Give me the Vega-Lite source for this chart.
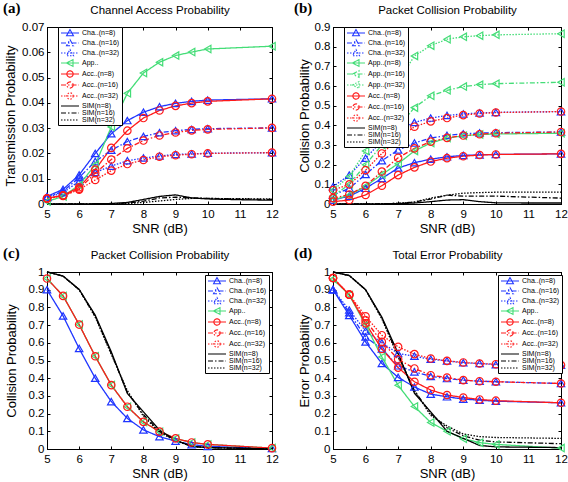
{
"$schema": "https://vega.github.io/schema/vega-lite/v6.json",
"padding": {"left": 2, "top": 0, "right": 0, "bottom": 0},
"background": "white",
"columns": 2,
"spacing": {"row": 9, "column": 14},
"resolve": {"scale": {"x": "independent", "y": "independent", "color": "independent", "shape": "independent", "strokeDash": "independent"}},
"datasets": {
"a": [
{"s":"Cha..(n=8)","x":5,"y":0.003},{"s":"Cha..(n=8)","x":5.5,"y":0.0058},{"s":"Cha..(n=8)","x":6,"y":0.0115},{"s":"Cha..(n=8)","x":6.5,"y":0.02},{"s":"Cha..(n=8)","x":7,"y":0.0278},{"s":"Cha..(n=8)","x":7.5,"y":0.033},{"s":"Cha..(n=8)","x":8,"y":0.0363},{"s":"Cha..(n=8)","x":8.5,"y":0.0385},{"s":"Cha..(n=8)","x":9,"y":0.0398},{"s":"Cha..(n=8)","x":9.5,"y":0.0406},{"s":"Cha..(n=8)","x":10,"y":0.0411},{"s":"Cha..(n=8)","x":12,"y":0.0416},
{"s":"Cha..(n=16)","x":5,"y":0.0027},{"s":"Cha..(n=16)","x":5.5,"y":0.005},{"s":"Cha..(n=16)","x":6,"y":0.0105},{"s":"Cha..(n=16)","x":6.5,"y":0.0168},{"s":"Cha..(n=16)","x":7,"y":0.0213},{"s":"Cha..(n=16)","x":7.5,"y":0.0247},{"s":"Cha..(n=16)","x":8,"y":0.0267},{"s":"Cha..(n=16)","x":8.5,"y":0.0282},{"s":"Cha..(n=16)","x":9,"y":0.029},{"s":"Cha..(n=16)","x":9.5,"y":0.0295},{"s":"Cha..(n=16)","x":10,"y":0.0298},{"s":"Cha..(n=16)","x":12,"y":0.0301},
{"s":"Cha..(n=32)","x":5,"y":0.0025},{"s":"Cha..(n=32)","x":5.5,"y":0.0045},{"s":"Cha..(n=32)","x":6,"y":0.009},{"s":"Cha..(n=32)","x":6.5,"y":0.0125},{"s":"Cha..(n=32)","x":7,"y":0.015},{"s":"Cha..(n=32)","x":7.5,"y":0.0171},{"s":"Cha..(n=32)","x":8,"y":0.0182},{"s":"Cha..(n=32)","x":8.5,"y":0.019},{"s":"Cha..(n=32)","x":9,"y":0.0196},{"s":"Cha..(n=32)","x":9.5,"y":0.0198},{"s":"Cha..(n=32)","x":10,"y":0.0201},{"s":"Cha..(n=32)","x":12,"y":0.0203},
{"s":"App..","x":5,"y":0.001},{"s":"App..","x":5.5,"y":0.003},{"s":"App..","x":6,"y":0.0075},{"s":"App..","x":6.5,"y":0.0155},{"s":"App..","x":7,"y":0.0305},{"s":"App..","x":7.5,"y":0.0438},{"s":"App..","x":8,"y":0.0518},{"s":"App..","x":8.5,"y":0.0561},{"s":"App..","x":9,"y":0.0587},{"s":"App..","x":9.5,"y":0.0601},{"s":"App..","x":10,"y":0.0613},{"s":"App..","x":12,"y":0.0624},
{"s":"Acc..(n=8)","x":5,"y":0.0023},{"s":"Acc..(n=8)","x":5.5,"y":0.0034},{"s":"Acc..(n=8)","x":6,"y":0.0066},{"s":"Acc..(n=8)","x":6.5,"y":0.0136},{"s":"Acc..(n=8)","x":7,"y":0.0222},{"s":"Acc..(n=8)","x":7.5,"y":0.029},{"s":"Acc..(n=8)","x":8,"y":0.034},{"s":"Acc..(n=8)","x":8.5,"y":0.037},{"s":"Acc..(n=8)","x":9,"y":0.0388},{"s":"Acc..(n=8)","x":9.5,"y":0.0399},{"s":"Acc..(n=8)","x":10,"y":0.0406},{"s":"Acc..(n=8)","x":12,"y":0.0416},
{"s":"Acc..(n=16)","x":5,"y":0.0022},{"s":"Acc..(n=16)","x":5.5,"y":0.0033},{"s":"Acc..(n=16)","x":6,"y":0.006},{"s":"Acc..(n=16)","x":6.5,"y":0.0122},{"s":"Acc..(n=16)","x":7,"y":0.0176},{"s":"Acc..(n=16)","x":7.5,"y":0.022},{"s":"Acc..(n=16)","x":8,"y":0.0251},{"s":"Acc..(n=16)","x":8.5,"y":0.0271},{"s":"Acc..(n=16)","x":9,"y":0.0283},{"s":"Acc..(n=16)","x":9.5,"y":0.0291},{"s":"Acc..(n=16)","x":10,"y":0.0295},{"s":"Acc..(n=16)","x":12,"y":0.0301},
{"s":"Acc..(n=32)","x":5,"y":0.0021},{"s":"Acc..(n=32)","x":5.5,"y":0.0032},{"s":"Acc..(n=32)","x":6,"y":0.0057},{"s":"Acc..(n=32)","x":6.5,"y":0.0095},{"s":"Acc..(n=32)","x":7,"y":0.0132},{"s":"Acc..(n=32)","x":7.5,"y":0.0158},{"s":"Acc..(n=32)","x":8,"y":0.0174},{"s":"Acc..(n=32)","x":8.5,"y":0.0187},{"s":"Acc..(n=32)","x":9,"y":0.0193},{"s":"Acc..(n=32)","x":9.5,"y":0.0197},{"s":"Acc..(n=32)","x":10,"y":0.02},{"s":"Acc..(n=32)","x":12,"y":0.0203},
{"s":"SIM(n=8)","x":5,"y":0},{"s":"SIM(n=8)","x":6,"y":0},{"s":"SIM(n=8)","x":7,"y":0.0002},{"s":"SIM(n=8)","x":7.5,"y":0.0006},{"s":"SIM(n=8)","x":8,"y":0.0018},{"s":"SIM(n=8)","x":8.5,"y":0.003},{"s":"SIM(n=8)","x":9,"y":0.0036},{"s":"SIM(n=8)","x":9.5,"y":0.0024},{"s":"SIM(n=8)","x":10,"y":0.002},{"s":"SIM(n=8)","x":11,"y":0.0017},{"s":"SIM(n=8)","x":12,"y":0.0015},
{"s":"SIM(n=16)","x":5,"y":0},{"s":"SIM(n=16)","x":6,"y":0},{"s":"SIM(n=16)","x":7,"y":0.0001},{"s":"SIM(n=16)","x":7.5,"y":0.0004},{"s":"SIM(n=16)","x":8,"y":0.0011},{"s":"SIM(n=16)","x":8.5,"y":0.0024},{"s":"SIM(n=16)","x":9,"y":0.0027},{"s":"SIM(n=16)","x":9.5,"y":0.0024},{"s":"SIM(n=16)","x":10,"y":0.0022},{"s":"SIM(n=16)","x":11,"y":0.002},{"s":"SIM(n=16)","x":12,"y":0.0018},
{"s":"SIM(n=32)","x":5,"y":0},{"s":"SIM(n=32)","x":6,"y":0},{"s":"SIM(n=32)","x":7,"y":0},{"s":"SIM(n=32)","x":7.5,"y":0.0002},{"s":"SIM(n=32)","x":8,"y":0.0006},{"s":"SIM(n=32)","x":8.5,"y":0.0012},{"s":"SIM(n=32)","x":9,"y":0.0018},{"s":"SIM(n=32)","x":9.5,"y":0.0022},{"s":"SIM(n=32)","x":10,"y":0.0022},{"s":"SIM(n=32)","x":11,"y":0.0021},{"s":"SIM(n=32)","x":12,"y":0.002}
],
"b": [
{"s":"Cha..(n=8)","x":5,"y":0.02},{"s":"Cha..(n=8)","x":5.5,"y":0.04},{"s":"Cha..(n=8)","x":6,"y":0.08},{"s":"Cha..(n=8)","x":6.5,"y":0.13},{"s":"Cha..(n=8)","x":7,"y":0.183},{"s":"Cha..(n=8)","x":7.5,"y":0.21},{"s":"Cha..(n=8)","x":8,"y":0.228},{"s":"Cha..(n=8)","x":8.5,"y":0.24},{"s":"Cha..(n=8)","x":9,"y":0.247},{"s":"Cha..(n=8)","x":9.5,"y":0.25},{"s":"Cha..(n=8)","x":10,"y":0.252},{"s":"Cha..(n=8)","x":12,"y":0.255},
{"s":"Cha..(n=16)","x":5,"y":0.045},{"s":"Cha..(n=16)","x":5.5,"y":0.08},{"s":"Cha..(n=16)","x":6,"y":0.15},{"s":"Cha..(n=16)","x":6.5,"y":0.22},{"s":"Cha..(n=16)","x":7,"y":0.275},{"s":"Cha..(n=16)","x":7.5,"y":0.31},{"s":"Cha..(n=16)","x":8,"y":0.335},{"s":"Cha..(n=16)","x":8.5,"y":0.349},{"s":"Cha..(n=16)","x":9,"y":0.357},{"s":"Cha..(n=16)","x":9.5,"y":0.361},{"s":"Cha..(n=16)","x":10,"y":0.363},{"s":"Cha..(n=16)","x":12,"y":0.366},
{"s":"Cha..(n=32)","x":5,"y":0.088},{"s":"Cha..(n=32)","x":5.5,"y":0.147},{"s":"Cha..(n=32)","x":6,"y":0.233},{"s":"Cha..(n=32)","x":6.5,"y":0.32},{"s":"Cha..(n=32)","x":7,"y":0.375},{"s":"Cha..(n=32)","x":7.5,"y":0.415},{"s":"Cha..(n=32)","x":8,"y":0.437},{"s":"Cha..(n=32)","x":8.5,"y":0.45},{"s":"Cha..(n=32)","x":9,"y":0.458},{"s":"Cha..(n=32)","x":9.5,"y":0.463},{"s":"Cha..(n=32)","x":10,"y":0.466},{"s":"Cha..(n=32)","x":12,"y":0.47},
{"s":"App..(n=8)","x":5,"y":0.02},{"s":"App..(n=8)","x":5.5,"y":0.045},{"s":"App..(n=8)","x":6,"y":0.09},{"s":"App..(n=8)","x":6.5,"y":0.15},{"s":"App..(n=8)","x":7,"y":0.205},{"s":"App..(n=8)","x":7.5,"y":0.27},{"s":"App..(n=8)","x":8,"y":0.31},{"s":"App..(n=8)","x":8.5,"y":0.335},{"s":"App..(n=8)","x":9,"y":0.347},{"s":"App..(n=8)","x":9.5,"y":0.353},{"s":"App..(n=8)","x":10,"y":0.356},{"s":"App..(n=8)","x":12,"y":0.36},
{"s":"App..(n=16)","x":5,"y":0.04},{"s":"App..(n=16)","x":5.5,"y":0.1},{"s":"App..(n=16)","x":6,"y":0.2},{"s":"App..(n=16)","x":6.5,"y":0.3},{"s":"App..(n=16)","x":7,"y":0.39},{"s":"App..(n=16)","x":7.5,"y":0.49},{"s":"App..(n=16)","x":8,"y":0.55},{"s":"App..(n=16)","x":8.5,"y":0.578},{"s":"App..(n=16)","x":9,"y":0.597},{"s":"App..(n=16)","x":9.5,"y":0.607},{"s":"App..(n=16)","x":10,"y":0.612},{"s":"App..(n=16)","x":12,"y":0.619},
{"s":"App..(n=32)","x":5,"y":0.07},{"s":"App..(n=32)","x":5.5,"y":0.14},{"s":"App..(n=32)","x":6,"y":0.27},{"s":"App..(n=32)","x":6.5,"y":0.45},{"s":"App..(n=32)","x":7,"y":0.62},{"s":"App..(n=32)","x":7.5,"y":0.753},{"s":"App..(n=32)","x":8,"y":0.805},{"s":"App..(n=32)","x":8.5,"y":0.838},{"s":"App..(n=32)","x":9,"y":0.85},{"s":"App..(n=32)","x":9.5,"y":0.856},{"s":"App..(n=32)","x":10,"y":0.86},{"s":"App..(n=32)","x":12,"y":0.866},
{"s":"Acc..(n=8)","x":5,"y":0.012},{"s":"Acc..(n=8)","x":5.5,"y":0.02},{"s":"Acc..(n=8)","x":6,"y":0.046},{"s":"Acc..(n=8)","x":6.5,"y":0.093},{"s":"Acc..(n=8)","x":7,"y":0.147},{"s":"Acc..(n=8)","x":7.5,"y":0.186},{"s":"Acc..(n=8)","x":8,"y":0.216},{"s":"Acc..(n=8)","x":8.5,"y":0.233},{"s":"Acc..(n=8)","x":9,"y":0.243},{"s":"Acc..(n=8)","x":9.5,"y":0.249},{"s":"Acc..(n=8)","x":10,"y":0.252},{"s":"Acc..(n=8)","x":12,"y":0.255},
{"s":"Acc..(n=16)","x":5,"y":0.03},{"s":"Acc..(n=16)","x":5.5,"y":0.048},{"s":"Acc..(n=16)","x":6,"y":0.092},{"s":"Acc..(n=16)","x":6.5,"y":0.165},{"s":"Acc..(n=16)","x":7,"y":0.235},{"s":"Acc..(n=16)","x":7.5,"y":0.283},{"s":"Acc..(n=16)","x":8,"y":0.317},{"s":"Acc..(n=16)","x":8.5,"y":0.336},{"s":"Acc..(n=16)","x":9,"y":0.348},{"s":"Acc..(n=16)","x":9.5,"y":0.355},{"s":"Acc..(n=16)","x":10,"y":0.36},{"s":"Acc..(n=16)","x":12,"y":0.366},
{"s":"Acc..(n=32)","x":5,"y":0.071},{"s":"Acc..(n=32)","x":5.5,"y":0.1},{"s":"Acc..(n=32)","x":6,"y":0.172},{"s":"Acc..(n=32)","x":6.5,"y":0.257},{"s":"Acc..(n=32)","x":7,"y":0.33},{"s":"Acc..(n=32)","x":7.5,"y":0.393},{"s":"Acc..(n=32)","x":8,"y":0.42},{"s":"Acc..(n=32)","x":8.5,"y":0.437},{"s":"Acc..(n=32)","x":9,"y":0.452},{"s":"Acc..(n=32)","x":9.5,"y":0.46},{"s":"Acc..(n=32)","x":10,"y":0.465},{"s":"Acc..(n=32)","x":12,"y":0.47},
{"s":"SIM(n=8)","x":5,"y":0},{"s":"SIM(n=8)","x":6,"y":0},{"s":"SIM(n=8)","x":7,"y":0.002},{"s":"SIM(n=8)","x":7.5,"y":0.005},{"s":"SIM(n=8)","x":8,"y":0.012},{"s":"SIM(n=8)","x":8.5,"y":0.02},{"s":"SIM(n=8)","x":9,"y":0.022},{"s":"SIM(n=8)","x":9.5,"y":0.012},{"s":"SIM(n=8)","x":10,"y":0.006},{"s":"SIM(n=8)","x":11,"y":0.005},{"s":"SIM(n=8)","x":12,"y":0.005},
{"s":"SIM(n=16)","x":5,"y":0},{"s":"SIM(n=16)","x":6,"y":0},{"s":"SIM(n=16)","x":7,"y":0.003},{"s":"SIM(n=16)","x":7.5,"y":0.01},{"s":"SIM(n=16)","x":8,"y":0.025},{"s":"SIM(n=16)","x":8.5,"y":0.045},{"s":"SIM(n=16)","x":9,"y":0.04},{"s":"SIM(n=16)","x":9.5,"y":0.04},{"s":"SIM(n=16)","x":10,"y":0.04},{"s":"SIM(n=16)","x":11,"y":0.035},{"s":"SIM(n=16)","x":12,"y":0.03},
{"s":"SIM(n=32)","x":5,"y":0},{"s":"SIM(n=32)","x":6,"y":0},{"s":"SIM(n=32)","x":7,"y":0.003},{"s":"SIM(n=32)","x":7.5,"y":0.01},{"s":"SIM(n=32)","x":8,"y":0.03},{"s":"SIM(n=32)","x":8.5,"y":0.045},{"s":"SIM(n=32)","x":9,"y":0.055},{"s":"SIM(n=32)","x":9.5,"y":0.058},{"s":"SIM(n=32)","x":10,"y":0.06},{"s":"SIM(n=32)","x":11,"y":0.06},{"s":"SIM(n=32)","x":12,"y":0.06}
],
"c": [
{"s":"Cha..(n=8)","x":5,"y":0.9},{"s":"Cha..(n=8)","x":5.5,"y":0.752},{"s":"Cha..(n=8)","x":6,"y":0.568},{"s":"Cha..(n=8)","x":6.5,"y":0.4},{"s":"Cha..(n=8)","x":7,"y":0.268},{"s":"Cha..(n=8)","x":7.5,"y":0.173},{"s":"Cha..(n=8)","x":8,"y":0.108},{"s":"Cha..(n=8)","x":8.5,"y":0.07},{"s":"Cha..(n=8)","x":9,"y":0.044},{"s":"Cha..(n=8)","x":9.5,"y":0.025},{"s":"Cha..(n=8)","x":10,"y":0.015},{"s":"Cha..(n=8)","x":12,"y":0.003},
{"s":"App..","x":5,"y":0.963},{"s":"App..","x":5.5,"y":0.865},{"s":"App..","x":6,"y":0.703},{"s":"App..","x":6.5,"y":0.524},{"s":"App..","x":7,"y":0.361},{"s":"App..","x":7.5,"y":0.239},{"s":"App..","x":8,"y":0.153},{"s":"App..","x":8.5,"y":0.098},{"s":"App..","x":9,"y":0.06},{"s":"App..","x":9.5,"y":0.037},{"s":"App..","x":10,"y":0.026},{"s":"App..","x":12,"y":0.005},
{"s":"Acc..(n=8)","x":5,"y":0.963},{"s":"Acc..(n=8)","x":5.5,"y":0.865},{"s":"Acc..(n=8)","x":6,"y":0.703},{"s":"Acc..(n=8)","x":6.5,"y":0.524},{"s":"Acc..(n=8)","x":7,"y":0.361},{"s":"Acc..(n=8)","x":7.5,"y":0.239},{"s":"Acc..(n=8)","x":8,"y":0.153},{"s":"Acc..(n=8)","x":8.5,"y":0.098},{"s":"Acc..(n=8)","x":9,"y":0.06},{"s":"Acc..(n=8)","x":9.5,"y":0.037},{"s":"Acc..(n=8)","x":10,"y":0.026},{"s":"Acc..(n=8)","x":12,"y":0.005},
{"s":"SIM(n=8)","x":5,"y":1},{"s":"SIM(n=8)","x":5.5,"y":0.977},{"s":"SIM(n=8)","x":6,"y":0.902},{"s":"SIM(n=8)","x":6.5,"y":0.756},{"s":"SIM(n=8)","x":7,"y":0.549},{"s":"SIM(n=8)","x":7.5,"y":0.314},{"s":"SIM(n=8)","x":8,"y":0.21},{"s":"SIM(n=8)","x":8.5,"y":0.107},{"s":"SIM(n=8)","x":9,"y":0.05},{"s":"SIM(n=8)","x":9.5,"y":0.015},{"s":"SIM(n=8)","x":10,"y":0.008},{"s":"SIM(n=8)","x":12,"y":0},
{"s":"SIM(n=16)","x":5,"y":1},{"s":"SIM(n=16)","x":5.5,"y":0.977},{"s":"SIM(n=16)","x":6,"y":0.9},{"s":"SIM(n=16)","x":6.5,"y":0.75},{"s":"SIM(n=16)","x":7,"y":0.54},{"s":"SIM(n=16)","x":7.5,"y":0.32},{"s":"SIM(n=16)","x":8,"y":0.195},{"s":"SIM(n=16)","x":8.5,"y":0.1},{"s":"SIM(n=16)","x":9,"y":0.048},{"s":"SIM(n=16)","x":9.5,"y":0.015},{"s":"SIM(n=16)","x":10,"y":0.008},{"s":"SIM(n=16)","x":12,"y":0},
{"s":"SIM(n=32)","x":5,"y":1},{"s":"SIM(n=32)","x":5.5,"y":0.977},{"s":"SIM(n=32)","x":6,"y":0.9},{"s":"SIM(n=32)","x":6.5,"y":0.745},{"s":"SIM(n=32)","x":7,"y":0.535},{"s":"SIM(n=32)","x":7.5,"y":0.33},{"s":"SIM(n=32)","x":8,"y":0.185},{"s":"SIM(n=32)","x":8.5,"y":0.095},{"s":"SIM(n=32)","x":9,"y":0.046},{"s":"SIM(n=32)","x":9.5,"y":0.015},{"s":"SIM(n=32)","x":10,"y":0.008},{"s":"SIM(n=32)","x":12,"y":0}
],
"d": [
{"s":"Cha..(n=8)","x":5,"y":0.9},{"s":"Cha..(n=8)","x":5.5,"y":0.755},{"s":"Cha..(n=8)","x":6,"y":0.605},{"s":"Cha..(n=8)","x":6.5,"y":0.483},{"s":"Cha..(n=8)","x":7,"y":0.405},{"s":"Cha..(n=8)","x":7.5,"y":0.35},{"s":"Cha..(n=8)","x":8,"y":0.31},{"s":"Cha..(n=8)","x":8.5,"y":0.295},{"s":"Cha..(n=8)","x":9,"y":0.282},{"s":"Cha..(n=8)","x":9.5,"y":0.276},{"s":"Cha..(n=8)","x":10,"y":0.27},{"s":"Cha..(n=8)","x":12,"y":0.261},
{"s":"Cha..(n=16)","x":5,"y":0.9},{"s":"Cha..(n=16)","x":5.5,"y":0.77},{"s":"Cha..(n=16)","x":6,"y":0.633},{"s":"Cha..(n=16)","x":6.5,"y":0.565},{"s":"Cha..(n=16)","x":7,"y":0.47},{"s":"Cha..(n=16)","x":7.5,"y":0.436},{"s":"Cha..(n=16)","x":8,"y":0.41},{"s":"Cha..(n=16)","x":8.5,"y":0.398},{"s":"Cha..(n=16)","x":9,"y":0.389},{"s":"Cha..(n=16)","x":9.5,"y":0.383},{"s":"Cha..(n=16)","x":10,"y":0.38},{"s":"Cha..(n=16)","x":12,"y":0.37},
{"s":"Cha..(n=32)","x":5,"y":0.9},{"s":"Cha..(n=32)","x":5.5,"y":0.785},{"s":"Cha..(n=32)","x":6,"y":0.667},{"s":"Cha..(n=32)","x":6.5,"y":0.6},{"s":"Cha..(n=32)","x":7,"y":0.54},{"s":"Cha..(n=32)","x":7.5,"y":0.524},{"s":"Cha..(n=32)","x":8,"y":0.507},{"s":"Cha..(n=32)","x":8.5,"y":0.498},{"s":"Cha..(n=32)","x":9,"y":0.487},{"s":"Cha..(n=32)","x":9.5,"y":0.483},{"s":"Cha..(n=32)","x":10,"y":0.477},{"s":"Cha..(n=32)","x":12,"y":0.474},
{"s":"App..","x":5,"y":0.96},{"s":"App..","x":5.5,"y":0.87},{"s":"App..","x":6,"y":0.7},{"s":"App..","x":6.5,"y":0.52},{"s":"App..","x":7,"y":0.36},{"s":"App..","x":7.5,"y":0.24},{"s":"App..","x":8,"y":0.15},{"s":"App..","x":8.5,"y":0.1},{"s":"App..","x":9,"y":0.058},{"s":"App..","x":9.5,"y":0.036},{"s":"App..","x":10,"y":0.026},{"s":"App..","x":12,"y":0.005},
{"s":"Acc..(n=8)","x":5,"y":0.966},{"s":"Acc..(n=8)","x":5.5,"y":0.872},{"s":"Acc..(n=8)","x":6,"y":0.71},{"s":"Acc..(n=8)","x":6.5,"y":0.565},{"s":"Acc..(n=8)","x":7,"y":0.46},{"s":"Acc..(n=8)","x":7.5,"y":0.38},{"s":"Acc..(n=8)","x":8,"y":0.333},{"s":"Acc..(n=8)","x":8.5,"y":0.305},{"s":"Acc..(n=8)","x":9,"y":0.291},{"s":"Acc..(n=8)","x":9.5,"y":0.28},{"s":"Acc..(n=8)","x":10,"y":0.273},{"s":"Acc..(n=8)","x":12,"y":0.261},
{"s":"Acc..(n=16)","x":5,"y":0.966},{"s":"Acc..(n=16)","x":5.5,"y":0.872},{"s":"Acc..(n=16)","x":6,"y":0.727},{"s":"Acc..(n=16)","x":6.5,"y":0.605},{"s":"Acc..(n=16)","x":7,"y":0.507},{"s":"Acc..(n=16)","x":7.5,"y":0.455},{"s":"Acc..(n=16)","x":8,"y":0.417},{"s":"Acc..(n=16)","x":8.5,"y":0.404},{"s":"Acc..(n=16)","x":9,"y":0.389},{"s":"Acc..(n=16)","x":9.5,"y":0.383},{"s":"Acc..(n=16)","x":10,"y":0.38},{"s":"Acc..(n=16)","x":12,"y":0.37},
{"s":"Acc..(n=32)","x":5,"y":0.966},{"s":"Acc..(n=32)","x":5.5,"y":0.872},{"s":"Acc..(n=32)","x":6,"y":0.75},{"s":"Acc..(n=32)","x":6.5,"y":0.643},{"s":"Acc..(n=32)","x":7,"y":0.577},{"s":"Acc..(n=32)","x":7.5,"y":0.536},{"s":"Acc..(n=32)","x":8,"y":0.511},{"s":"Acc..(n=32)","x":8.5,"y":0.498},{"s":"Acc..(n=32)","x":9,"y":0.489},{"s":"Acc..(n=32)","x":9.5,"y":0.483},{"s":"Acc..(n=32)","x":10,"y":0.479},{"s":"Acc..(n=32)","x":12,"y":0.474},
{"s":"SIM(n=8)","x":5,"y":1},{"s":"SIM(n=8)","x":5.5,"y":0.98},{"s":"SIM(n=8)","x":6,"y":0.9},{"s":"SIM(n=8)","x":6.5,"y":0.745},{"s":"SIM(n=8)","x":7,"y":0.54},{"s":"SIM(n=8)","x":7.5,"y":0.315},{"s":"SIM(n=8)","x":8,"y":0.21},{"s":"SIM(n=8)","x":8.5,"y":0.1},{"s":"SIM(n=8)","x":9,"y":0.06},{"s":"SIM(n=8)","x":9.5,"y":0.02},{"s":"SIM(n=8)","x":10,"y":0.012},{"s":"SIM(n=8)","x":12,"y":0.008},
{"s":"SIM(n=16)","x":5,"y":1},{"s":"SIM(n=16)","x":5.5,"y":0.98},{"s":"SIM(n=16)","x":6,"y":0.9},{"s":"SIM(n=16)","x":6.5,"y":0.74},{"s":"SIM(n=16)","x":7,"y":0.53},{"s":"SIM(n=16)","x":7.5,"y":0.33},{"s":"SIM(n=16)","x":8,"y":0.2},{"s":"SIM(n=16)","x":8.5,"y":0.12},{"s":"SIM(n=16)","x":9,"y":0.075},{"s":"SIM(n=16)","x":9.5,"y":0.05},{"s":"SIM(n=16)","x":10,"y":0.04},{"s":"SIM(n=16)","x":12,"y":0.03},
{"s":"SIM(n=32)","x":5,"y":1},{"s":"SIM(n=32)","x":5.5,"y":0.98},{"s":"SIM(n=32)","x":6,"y":0.9},{"s":"SIM(n=32)","x":6.5,"y":0.735},{"s":"SIM(n=32)","x":7,"y":0.52},{"s":"SIM(n=32)","x":7.5,"y":0.33},{"s":"SIM(n=32)","x":8,"y":0.19},{"s":"SIM(n=32)","x":8.5,"y":0.13},{"s":"SIM(n=32)","x":9,"y":0.085},{"s":"SIM(n=32)","x":9.5,"y":0.07},{"s":"SIM(n=32)","x":10,"y":0.065},{"s":"SIM(n=32)","x":12,"y":0.06}
]
},
"concat": [
{
"data": {"name": "a"},
"width": 225, "height": 177,
"title": {"text": "(a)", "dx": -44},
"resolve": {"scale": {"color": "independent", "shape": "independent", "strokeDash": "independent"}, "axis": {"x": "independent", "y": "independent"}},
"layer": [
{"mark": {"type": "line", "strokeWidth": 1.3},
 "encoding": {
  "x": {"field": "x", "type": "quantitative", "scale": {"domain": [5, 12], "nice": false}, "axis": {"orient": "bottom", "values": [5,6,7,8,9,10,11,12], "title": "SNR (dB)", "labelPadding": 7, "titlePadding": 3, "labelFlush": false}},
  "y": {"field": "y", "type": "quantitative", "scale": {"domain": [0, 0.07], "nice": false}, "axis": {"orient": "left", "values": [0,0.01,0.02,0.03,0.04,0.05,0.06,0.07], "format": "~g", "title": "Transmission Probability", "labelPadding": 6, "titlePadding": 4}},
  "color": {"field": "s", "type": "nominal", "scale": {"domain": ["Cha..(n=8)","Cha..(n=16)","Cha..(n=32)","App..","Acc..(n=8)","Acc..(n=16)","Acc..(n=32)","SIM(n=8)","SIM(n=16)","SIM(n=32)"], "range": ["#1f35ff","#1f35ff","#1f35ff","#44dd77","#ff1a1a","#ff1a1a","#ff1a1a","#000000","#000000","#000000"]}, "legend": null},
  "strokeDash": {"field": "s", "type": "nominal", "scale": {"domain": ["Cha..(n=8)","Cha..(n=16)","Cha..(n=32)","App..","Acc..(n=8)","Acc..(n=16)","Acc..(n=32)","SIM(n=8)","SIM(n=16)","SIM(n=32)"], "range": [[1,0],[5,2,1.5,2],[1.5,1.5],[1,0],[1,0],[5,2,1.5,2],[1.5,1.5],[1,0],[5,2,1.5,2],[1.5,1.5]]}, "legend": null}
 }},
{"transform": [{"filter": "indexof(datum.s, 'SIM') < 0"}],
 "mark": {"type": "point", "filled": false, "size": 55, "strokeWidth": 1.2, "opacity": 1},
 "encoding": {
  "x": {"field": "x", "type": "quantitative", "scale": {"domain": [5, 12], "nice": false}, "axis": null},
  "y": {"field": "y", "type": "quantitative", "scale": {"domain": [0, 0.07], "nice": false}, "axis": null},
  "color": {"field": "s", "type": "nominal", "scale": {"domain": ["Cha..(n=8)","Cha..(n=16)","Cha..(n=32)","App..","Acc..(n=8)","Acc..(n=16)","Acc..(n=32)","SIM(n=8)","SIM(n=16)","SIM(n=32)"], "range": ["#1f35ff","#1f35ff","#1f35ff","#44dd77","#ff1a1a","#ff1a1a","#ff1a1a","#000000","#000000","#000000"]}, "legend": null},
  "shape": {"field": "s", "type": "nominal", "scale": {"domain": ["Cha..(n=8)","Cha..(n=16)","Cha..(n=32)","App..","Acc..(n=8)","Acc..(n=16)","Acc..(n=32)","SIM(n=8)","SIM(n=16)","SIM(n=32)"], "range": ["triangle-up","triangle-up","triangle-up","triangle-left","circle","circle","circle","circle","circle","circle"]}, "legend": null}
 }},
{"transform": [{"filter": "datum.y < -1"}],
 "mark": {"type": "point", "filled": false, "opacity": 1},
 "encoding": {
  "x": {"field": "x", "type": "quantitative", "scale": {"domain": [5, 12], "nice": false}, "axis": {"orient": "top", "values": [5,6,7,8,9,10,11,12], "labels": false, "title": "Channel Access Probability", "titleFontSize": 11.5, "titlePadding": 11}},
  "y": {"field": "y", "type": "quantitative", "scale": {"domain": [0, 0.07], "nice": false}, "axis": {"orient": "right", "values": [0,0.01,0.02,0.03,0.04,0.05,0.06,0.07], "labels": false, "title": null}},
  "color": {"field": "s", "type": "nominal", "scale": {"domain": ["Cha..(n=8)","Cha..(n=16)","Cha..(n=32)","App..","Acc..(n=8)","Acc..(n=16)","Acc..(n=32)","SIM(n=8)","SIM(n=16)","SIM(n=32)"], "range": ["#1f35ff","#1f35ff","#1f35ff","#44dd77","#ff1a1a","#ff1a1a","#ff1a1a","#000000","#000000","#000000"]}, "legend": {"orient": "none", "legendX": 11, "legendY": 0}},
  "shape": {"field": "s", "type": "nominal", "scale": {"domain": ["Cha..(n=8)","Cha..(n=16)","Cha..(n=32)","App..","Acc..(n=8)","Acc..(n=16)","Acc..(n=32)","SIM(n=8)","SIM(n=16)","SIM(n=32)"], "range": ["M-1,0H5M2,-1.15L3.15,0.9L0.85,0.9Z","M-1,0H5M2,-1.15L3.15,0.9L0.85,0.9Z","M-1,0H5M2,-1.15L3.15,0.9L0.85,0.9Z","M-1,0H5M0.85,0L3,-1.15L3,1.15Z","M-1,0H5M3.05,0A1.05,1.05,0,1,1,0.95,0A1.05,1.05,0,1,1,3.05,0Z","M-1,0H5M3.05,0A1.05,1.05,0,1,1,0.95,0A1.05,1.05,0,1,1,3.05,0Z","M-1,0H5M3.05,0A1.05,1.05,0,1,1,0.95,0A1.05,1.05,0,1,1,3.05,0Z","M-1,0H5","M-1,0H5","M-1,0H5"]}},
  "strokeDash": {"field": "s", "type": "nominal", "scale": {"domain": ["Cha..(n=8)","Cha..(n=16)","Cha..(n=32)","App..","Acc..(n=8)","Acc..(n=16)","Acc..(n=32)","SIM(n=8)","SIM(n=16)","SIM(n=32)"], "range": [[1,0],[5,2,1.5,2],[1.5,1.5],[1,0],[1,0],[5,2,1.5,2],[1.5,1.5],[1,0],[5,2,1.5,2],[1.5,1.5]]}}
 }}
]
},
{
"data": {"name": "b"},
"width": 228, "height": 177,
"title": {"text": "(b)", "dx": -39},
"resolve": {"scale": {"color": "independent", "shape": "independent", "strokeDash": "independent"}, "axis": {"x": "independent", "y": "independent"}},
"layer": [
{"mark": {"type": "line", "strokeWidth": 1.3},
 "encoding": {
  "x": {"field": "x", "type": "quantitative", "scale": {"domain": [5, 12], "nice": false}, "axis": {"orient": "bottom", "values": [5,6,7,8,9,10,11,12], "title": "SNR (dB)", "labelPadding": 7, "titlePadding": 3, "labelFlush": false}},
  "y": {"field": "y", "type": "quantitative", "scale": {"domain": [0, 0.9], "nice": false}, "axis": {"orient": "left", "values": [0,0.1,0.2,0.3,0.4,0.5,0.6,0.7,0.8,0.9], "format": "~g", "title": "Collision Probability", "labelPadding": 6, "titlePadding": 3}},
  "color": {"field": "s", "type": "nominal", "scale": {"domain": ["Cha..(n=8)","Cha..(n=16)","Cha..(n=32)","App..(n=8)","App..(n=16)","App..(n=32)","Acc..(n=8)","Acc..(n=16)","Acc..(n=32)","SIM(n=8)","SIM(n=16)","SIM(n=32)"], "range": ["#1f35ff","#1f35ff","#1f35ff","#44dd77","#44dd77","#44dd77","#ff1a1a","#ff1a1a","#ff1a1a","#000000","#000000","#000000"]}, "legend": null},
  "strokeDash": {"field": "s", "type": "nominal", "scale": {"domain": ["Cha..(n=8)","Cha..(n=16)","Cha..(n=32)","App..(n=8)","App..(n=16)","App..(n=32)","Acc..(n=8)","Acc..(n=16)","Acc..(n=32)","SIM(n=8)","SIM(n=16)","SIM(n=32)"], "range": [[1,0],[5,2,1.5,2],[1.5,1.5],[1,0],[5,2,1.5,2],[1.5,1.5],[1,0],[5,2,1.5,2],[1.5,1.5],[1,0],[5,2,1.5,2],[1.5,1.5]]}, "legend": null}
 }},
{"transform": [{"filter": "indexof(datum.s, 'SIM') < 0"}],
 "mark": {"type": "point", "filled": false, "size": 55, "strokeWidth": 1.2, "opacity": 1},
 "encoding": {
  "x": {"field": "x", "type": "quantitative", "scale": {"domain": [5, 12], "nice": false}, "axis": null},
  "y": {"field": "y", "type": "quantitative", "scale": {"domain": [0, 0.9], "nice": false}, "axis": null},
  "color": {"field": "s", "type": "nominal", "scale": {"domain": ["Cha..(n=8)","Cha..(n=16)","Cha..(n=32)","App..(n=8)","App..(n=16)","App..(n=32)","Acc..(n=8)","Acc..(n=16)","Acc..(n=32)","SIM(n=8)","SIM(n=16)","SIM(n=32)"], "range": ["#1f35ff","#1f35ff","#1f35ff","#44dd77","#44dd77","#44dd77","#ff1a1a","#ff1a1a","#ff1a1a","#000000","#000000","#000000"]}, "legend": null},
  "shape": {"field": "s", "type": "nominal", "scale": {"domain": ["Cha..(n=8)","Cha..(n=16)","Cha..(n=32)","App..(n=8)","App..(n=16)","App..(n=32)","Acc..(n=8)","Acc..(n=16)","Acc..(n=32)","SIM(n=8)","SIM(n=16)","SIM(n=32)"], "range": ["triangle-up","triangle-up","triangle-up","triangle-left","triangle-left","triangle-left","circle","circle","circle","circle","circle","circle"]}, "legend": null}
 }},
{"transform": [{"filter": "datum.y < -1"}],
 "mark": {"type": "point", "filled": false, "opacity": 1},
 "encoding": {
  "x": {"field": "x", "type": "quantitative", "scale": {"domain": [5, 12], "nice": false}, "axis": {"orient": "top", "values": [5,6,7,8,9,10,11,12], "labels": false, "title": "Packet Collision Probability", "titleFontSize": 11.5, "titlePadding": 11}},
  "y": {"field": "y", "type": "quantitative", "scale": {"domain": [0, 0.9], "nice": false}, "axis": {"orient": "right", "values": [0,0.1,0.2,0.3,0.4,0.5,0.6,0.7,0.8,0.9], "labels": false, "title": null}},
  "color": {"field": "s", "type": "nominal", "scale": {"domain": ["Cha..(n=8)","Cha..(n=16)","Cha..(n=32)","App..(n=8)","App..(n=16)","App..(n=32)","Acc..(n=8)","Acc..(n=16)","Acc..(n=32)","SIM(n=8)","SIM(n=16)","SIM(n=32)"], "range": ["#1f35ff","#1f35ff","#1f35ff","#44dd77","#44dd77","#44dd77","#ff1a1a","#ff1a1a","#ff1a1a","#000000","#000000","#000000"]}, "legend": {"orient": "none", "legendX": 11, "legendY": 0}},
  "shape": {"field": "s", "type": "nominal", "scale": {"domain": ["Cha..(n=8)","Cha..(n=16)","Cha..(n=32)","App..(n=8)","App..(n=16)","App..(n=32)","Acc..(n=8)","Acc..(n=16)","Acc..(n=32)","SIM(n=8)","SIM(n=16)","SIM(n=32)"], "range": ["M-1,0H5M2,-1.15L3.15,0.9L0.85,0.9Z","M-1,0H5M2,-1.15L3.15,0.9L0.85,0.9Z","M-1,0H5M2,-1.15L3.15,0.9L0.85,0.9Z","M-1,0H5M0.85,0L3,-1.15L3,1.15Z","M-1,0H5M0.85,0L3,-1.15L3,1.15Z","M-1,0H5M0.85,0L3,-1.15L3,1.15Z","M-1,0H5M3.05,0A1.05,1.05,0,1,1,0.95,0A1.05,1.05,0,1,1,3.05,0Z","M-1,0H5M3.05,0A1.05,1.05,0,1,1,0.95,0A1.05,1.05,0,1,1,3.05,0Z","M-1,0H5M3.05,0A1.05,1.05,0,1,1,0.95,0A1.05,1.05,0,1,1,3.05,0Z","M-1,0H5","M-1,0H5","M-1,0H5"]}},
  "strokeDash": {"field": "s", "type": "nominal", "scale": {"domain": ["Cha..(n=8)","Cha..(n=16)","Cha..(n=32)","App..(n=8)","App..(n=16)","App..(n=32)","Acc..(n=8)","Acc..(n=16)","Acc..(n=32)","SIM(n=8)","SIM(n=16)","SIM(n=32)"], "range": [[1,0],[5,2,1.5,2],[1.5,1.5],[1,0],[5,2,1.5,2],[1.5,1.5],[1,0],[5,2,1.5,2],[1.5,1.5],[1,0],[5,2,1.5,2],[1.5,1.5]]}}
 }}
]
},
{
"data": {"name": "c"},
"width": 225, "height": 177,
"title": {"text": "(c)", "dx": -44},
"resolve": {"scale": {"color": "independent", "shape": "independent", "strokeDash": "independent"}, "axis": {"x": "independent", "y": "independent"}},
"layer": [
{"mark": {"type": "line", "strokeWidth": 1.3},
 "encoding": {
  "x": {"field": "x", "type": "quantitative", "scale": {"domain": [5, 12], "nice": false}, "axis": {"orient": "bottom", "values": [5,6,7,8,9,10,11,12], "title": "SNR (dB)", "labelPadding": 7, "titlePadding": 3, "labelFlush": false}},
  "y": {"field": "y", "type": "quantitative", "scale": {"domain": [0, 1], "nice": false}, "axis": {"orient": "left", "values": [0,0.1,0.2,0.3,0.4,0.5,0.6,0.7,0.8,0.9,1], "format": "~g", "title": "Collision Probability", "labelPadding": 6, "titlePadding": 10}},
  "color": {"field": "s", "type": "nominal", "scale": {"domain": ["Cha..(n=8)","Cha..(n=16)","Cha..(n=32)","App..","Acc..(n=8)","Acc..(n=16)","Acc..(n=32)","SIM(n=8)","SIM(n=16)","SIM(n=32)"], "range": ["#1f35ff","#1f35ff","#1f35ff","#44dd77","#ff1a1a","#ff1a1a","#ff1a1a","#000000","#000000","#000000"]}, "legend": null},
  "strokeDash": {"field": "s", "type": "nominal", "scale": {"domain": ["Cha..(n=8)","Cha..(n=16)","Cha..(n=32)","App..","Acc..(n=8)","Acc..(n=16)","Acc..(n=32)","SIM(n=8)","SIM(n=16)","SIM(n=32)"], "range": [[1,0],[5,2,1.5,2],[1.5,1.5],[1,0],[1,0],[5,2,1.5,2],[1.5,1.5],[1,0],[5,2,1.5,2],[1.5,1.5]]}, "legend": null}
 }},
{"transform": [{"filter": "indexof(datum.s, 'SIM') < 0"}],
 "mark": {"type": "point", "filled": false, "size": 55, "strokeWidth": 1.2, "opacity": 1},
 "encoding": {
  "x": {"field": "x", "type": "quantitative", "scale": {"domain": [5, 12], "nice": false}, "axis": null},
  "y": {"field": "y", "type": "quantitative", "scale": {"domain": [0, 1], "nice": false}, "axis": null},
  "color": {"field": "s", "type": "nominal", "scale": {"domain": ["Cha..(n=8)","Cha..(n=16)","Cha..(n=32)","App..","Acc..(n=8)","Acc..(n=16)","Acc..(n=32)","SIM(n=8)","SIM(n=16)","SIM(n=32)"], "range": ["#1f35ff","#1f35ff","#1f35ff","#44dd77","#ff1a1a","#ff1a1a","#ff1a1a","#000000","#000000","#000000"]}, "legend": null},
  "shape": {"field": "s", "type": "nominal", "scale": {"domain": ["Cha..(n=8)","Cha..(n=16)","Cha..(n=32)","App..","Acc..(n=8)","Acc..(n=16)","Acc..(n=32)","SIM(n=8)","SIM(n=16)","SIM(n=32)"], "range": ["triangle-up","triangle-up","triangle-up","triangle-left","circle","circle","circle","circle","circle","circle"]}, "legend": null}
 }},
{"transform": [{"filter": "datum.y < -1"}],
 "mark": {"type": "point", "filled": false, "opacity": 1},
 "encoding": {
  "x": {"field": "x", "type": "quantitative", "scale": {"domain": [5, 12], "nice": false}, "axis": {"orient": "top", "values": [5,6,7,8,9,10,11,12], "labels": false, "title": "Packet Collision Probability", "titleFontSize": 11.5, "titlePadding": 11}},
  "y": {"field": "y", "type": "quantitative", "scale": {"domain": [0, 1], "nice": false}, "axis": {"orient": "right", "values": [0,0.1,0.2,0.3,0.4,0.5,0.6,0.7,0.8,0.9,1], "labels": false, "title": null}},
  "color": {"field": "s", "type": "nominal", "scale": {"domain": ["Cha..(n=8)","Cha..(n=16)","Cha..(n=32)","App..","Acc..(n=8)","Acc..(n=16)","Acc..(n=32)","SIM(n=8)","SIM(n=16)","SIM(n=32)"], "range": ["#1f35ff","#1f35ff","#1f35ff","#44dd77","#ff1a1a","#ff1a1a","#ff1a1a","#000000","#000000","#000000"]}, "legend": {"orient": "none", "legendX": 158, "legendY": 3}},
  "shape": {"field": "s", "type": "nominal", "scale": {"domain": ["Cha..(n=8)","Cha..(n=16)","Cha..(n=32)","App..","Acc..(n=8)","Acc..(n=16)","Acc..(n=32)","SIM(n=8)","SIM(n=16)","SIM(n=32)"], "range": ["M-1,0H5M2,-1.15L3.15,0.9L0.85,0.9Z","M-1,0H5M2,-1.15L3.15,0.9L0.85,0.9Z","M-1,0H5M2,-1.15L3.15,0.9L0.85,0.9Z","M-1,0H5M0.85,0L3,-1.15L3,1.15Z","M-1,0H5M3.05,0A1.05,1.05,0,1,1,0.95,0A1.05,1.05,0,1,1,3.05,0Z","M-1,0H5M3.05,0A1.05,1.05,0,1,1,0.95,0A1.05,1.05,0,1,1,3.05,0Z","M-1,0H5M3.05,0A1.05,1.05,0,1,1,0.95,0A1.05,1.05,0,1,1,3.05,0Z","M-1,0H5","M-1,0H5","M-1,0H5"]}},
  "strokeDash": {"field": "s", "type": "nominal", "scale": {"domain": ["Cha..(n=8)","Cha..(n=16)","Cha..(n=32)","App..","Acc..(n=8)","Acc..(n=16)","Acc..(n=32)","SIM(n=8)","SIM(n=16)","SIM(n=32)"], "range": [[1,0],[5,2,1.5,2],[1.5,1.5],[1,0],[1,0],[5,2,1.5,2],[1.5,1.5],[1,0],[5,2,1.5,2],[1.5,1.5]]}}
 }}
]
},
{
"data": {"name": "d"},
"width": 228, "height": 177,
"title": {"text": "(d)", "dx": -39},
"resolve": {"scale": {"color": "independent", "shape": "independent", "strokeDash": "independent"}, "axis": {"x": "independent", "y": "independent"}},
"layer": [
{"mark": {"type": "line", "strokeWidth": 1.3},
 "encoding": {
  "x": {"field": "x", "type": "quantitative", "scale": {"domain": [5, 12], "nice": false}, "axis": {"orient": "bottom", "values": [5,6,7,8,9,10,11,12], "title": "SNR (dB)", "labelPadding": 7, "titlePadding": 3, "labelFlush": false}},
  "y": {"field": "y", "type": "quantitative", "scale": {"domain": [0, 1], "nice": false}, "axis": {"orient": "left", "values": [0,0.1,0.2,0.3,0.4,0.5,0.6,0.7,0.8,0.9,1], "format": "~g", "title": "Error Probability", "labelPadding": 6, "titlePadding": 3}},
  "color": {"field": "s", "type": "nominal", "scale": {"domain": ["Cha..(n=8)","Cha..(n=16)","Cha..(n=32)","App..","Acc..(n=8)","Acc..(n=16)","Acc..(n=32)","SIM(n=8)","SIM(n=16)","SIM(n=32)"], "range": ["#1f35ff","#1f35ff","#1f35ff","#44dd77","#ff1a1a","#ff1a1a","#ff1a1a","#000000","#000000","#000000"]}, "legend": null},
  "strokeDash": {"field": "s", "type": "nominal", "scale": {"domain": ["Cha..(n=8)","Cha..(n=16)","Cha..(n=32)","App..","Acc..(n=8)","Acc..(n=16)","Acc..(n=32)","SIM(n=8)","SIM(n=16)","SIM(n=32)"], "range": [[1,0],[5,2,1.5,2],[1.5,1.5],[1,0],[1,0],[5,2,1.5,2],[1.5,1.5],[1,0],[5,2,1.5,2],[1.5,1.5]]}, "legend": null}
 }},
{"transform": [{"filter": "indexof(datum.s, 'SIM') < 0"}],
 "mark": {"type": "point", "filled": false, "size": 55, "strokeWidth": 1.2, "opacity": 1},
 "encoding": {
  "x": {"field": "x", "type": "quantitative", "scale": {"domain": [5, 12], "nice": false}, "axis": null},
  "y": {"field": "y", "type": "quantitative", "scale": {"domain": [0, 1], "nice": false}, "axis": null},
  "color": {"field": "s", "type": "nominal", "scale": {"domain": ["Cha..(n=8)","Cha..(n=16)","Cha..(n=32)","App..","Acc..(n=8)","Acc..(n=16)","Acc..(n=32)","SIM(n=8)","SIM(n=16)","SIM(n=32)"], "range": ["#1f35ff","#1f35ff","#1f35ff","#44dd77","#ff1a1a","#ff1a1a","#ff1a1a","#000000","#000000","#000000"]}, "legend": null},
  "shape": {"field": "s", "type": "nominal", "scale": {"domain": ["Cha..(n=8)","Cha..(n=16)","Cha..(n=32)","App..","Acc..(n=8)","Acc..(n=16)","Acc..(n=32)","SIM(n=8)","SIM(n=16)","SIM(n=32)"], "range": ["triangle-up","triangle-up","triangle-up","triangle-left","circle","circle","circle","circle","circle","circle"]}, "legend": null}
 }},
{"transform": [{"filter": "datum.y < -1"}],
 "mark": {"type": "point", "filled": false, "opacity": 1},
 "encoding": {
  "x": {"field": "x", "type": "quantitative", "scale": {"domain": [5, 12], "nice": false}, "axis": {"orient": "top", "values": [5,6,7,8,9,10,11,12], "labels": false, "title": "Total Error Probability", "titleFontSize": 11.5, "titlePadding": 11}},
  "y": {"field": "y", "type": "quantitative", "scale": {"domain": [0, 1], "nice": false}, "axis": {"orient": "right", "values": [0,0.1,0.2,0.3,0.4,0.5,0.6,0.7,0.8,0.9,1], "labels": false, "title": null}},
  "color": {"field": "s", "type": "nominal", "scale": {"domain": ["Cha..(n=8)","Cha..(n=16)","Cha..(n=32)","App..","Acc..(n=8)","Acc..(n=16)","Acc..(n=32)","SIM(n=8)","SIM(n=16)","SIM(n=32)"], "range": ["#1f35ff","#1f35ff","#1f35ff","#44dd77","#ff1a1a","#ff1a1a","#ff1a1a","#000000","#000000","#000000"]}, "legend": {"orient": "none", "legendX": 165, "legendY": 3}},
  "shape": {"field": "s", "type": "nominal", "scale": {"domain": ["Cha..(n=8)","Cha..(n=16)","Cha..(n=32)","App..","Acc..(n=8)","Acc..(n=16)","Acc..(n=32)","SIM(n=8)","SIM(n=16)","SIM(n=32)"], "range": ["M-1,0H5M2,-1.15L3.15,0.9L0.85,0.9Z","M-1,0H5M2,-1.15L3.15,0.9L0.85,0.9Z","M-1,0H5M2,-1.15L3.15,0.9L0.85,0.9Z","M-1,0H5M0.85,0L3,-1.15L3,1.15Z","M-1,0H5M3.05,0A1.05,1.05,0,1,1,0.95,0A1.05,1.05,0,1,1,3.05,0Z","M-1,0H5M3.05,0A1.05,1.05,0,1,1,0.95,0A1.05,1.05,0,1,1,3.05,0Z","M-1,0H5M3.05,0A1.05,1.05,0,1,1,0.95,0A1.05,1.05,0,1,1,3.05,0Z","M-1,0H5","M-1,0H5","M-1,0H5"]}},
  "strokeDash": {"field": "s", "type": "nominal", "scale": {"domain": ["Cha..(n=8)","Cha..(n=16)","Cha..(n=32)","App..","Acc..(n=8)","Acc..(n=16)","Acc..(n=32)","SIM(n=8)","SIM(n=16)","SIM(n=32)"], "range": [[1,0],[5,2,1.5,2],[1.5,1.5],[1,0],[1,0],[5,2,1.5,2],[1.5,1.5],[1,0],[5,2,1.5,2],[1.5,1.5]]}}
 }}
]
}
],
"config": {
"font": "Liberation Sans",
"view": {"stroke": "#000000", "strokeWidth": 1},
"axis": {"domainColor": "#000000", "domainWidth": 1, "tickColor": "#000000", "tickSize": -3, "tickWidth": 1, "grid": false, "labelColor": "#000000", "labelFont": "Liberation Sans", "labelFontSize": 11.5, "titleColor": "#000000", "titleFont": "Liberation Sans", "titleFontSize": 13, "titleFontWeight": "normal"},
"legend": {"title": null, "strokeColor": "#000000", "fillColor": "#ffffff", "padding": 2, "labelFont": "Liberation Sans", "labelFontSize": 7, "labelColor": "#000000", "symbolSize": 36, "symbolStrokeWidth": 1.1, "labelOffset": 14, "rowPadding": -1, "symbolOpacity": 1, "labelLimit": 0},
"title": {"anchor": "start", "frame": "group", "font": "Liberation Serif", "fontSize": 15, "fontWeight": "bold", "color": "#000000", "dy": 15, "offset": 0}
}
}
